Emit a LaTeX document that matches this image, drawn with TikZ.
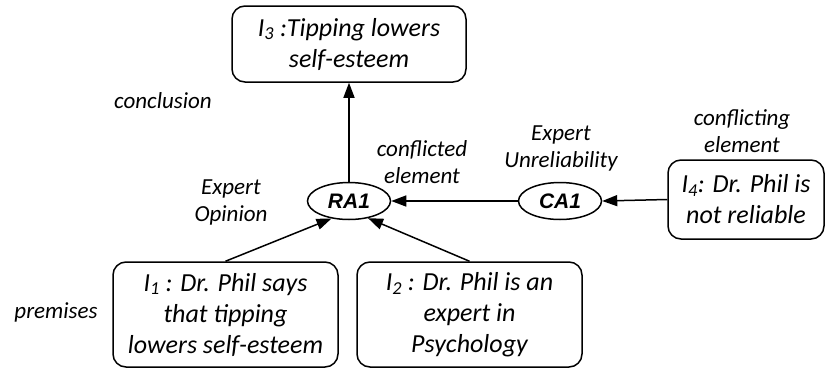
\documentclass[tikz,border=0pt]{standalone}
\usepackage{fontspec}
\setmainfont{Carlito}
\newfontfamily\schemefont{Liberation Sans}
\usetikzlibrary{shapes.geometric,arrows.meta}

\begin{document}
\begin{tikzpicture}[x=1pt,y=-1pt,
  stmt/.style={draw, line width=1.5pt, rounded corners=13pt, align=center,
    inner sep=0pt, font=\fontsize{26}{31}\selectfont\itshape},
  scheme/.style={draw, ellipse, line width=1.5pt, inner sep=0pt,
    minimum width=83pt, minimum height=37pt,
    font=\schemefont\fontsize{21}{25}\selectfont\bfseries\itshape},
  lbl/.style={align=center, inner sep=0pt,
    font=\fontsize{23}{27}\selectfont\itshape},
  link/.style={line width=1.5pt, -{Triangle[length=15pt,width=11pt]}}
]
\useasboundingbox (0,0) rectangle (827,370);

% information nodes
\node[stmt, minimum width=234pt, minimum height=76pt] (I3) at (349,44)
  {I\textsubscript{3} :Tipping lowers\\self-esteem};
\node[stmt, minimum width=225pt, minimum height=105pt] (I1) at (225.5,314.5)
  {I\textsubscript{1} : Dr. Phil says\\that tipping\\lowers self-esteem};
\node[stmt, minimum width=225pt, minimum height=105pt] (I2) at (469.5,314.5)
  {I\textsubscript{2} : Dr. Phil is an\\expert in\\Psychology};
\node[stmt, minimum width=156pt, minimum height=79pt] (I4) at (746,199.5)
  {I\textsubscript{4}: Dr. Phil is\\not reliable};

% scheme nodes
\node[scheme] (RA1) at (349,201) {RA1};
\node[scheme] (CA1) at (560,201) {CA1};

% edge labels
\node[lbl, anchor=base] (lconc) at (163,108) {conclusion};
\node[lbl, anchor=base] (lprem) at (56,318) {premises};
\node[lbl] (lexop) at (231,202.5) {Expert\\Opinion};
\node[lbl] (lcfd) at (422,162.5) {conflicted\\element};
\node[lbl] (lexun) at (561,148.5) {Expert\\Unreliability};
\node[lbl] (lcfg) at (742,131) {conflicting\\element};

% connectors
\draw[link] (RA1.north) -- (I3.south);
\draw[link] (I1.north) -- (RA1.225);
\draw[link] (I2.north) -- (RA1.318);
\draw[link] (CA1.west) -- (RA1.east);
\draw[link] (I4.west) -- (CA1.east);
\end{tikzpicture}
\end{document}
